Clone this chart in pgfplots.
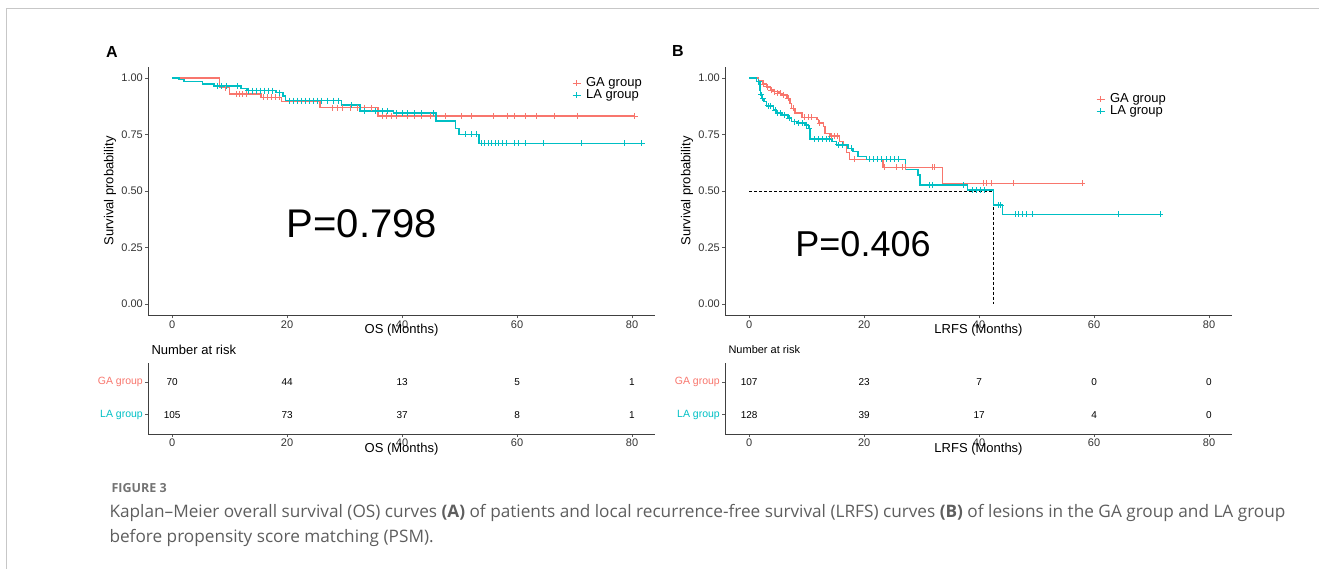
\documentclass[border=0pt]{standalone}
\usepackage{fontspec}
\setmainfont{Liberation Sans}
\newfontfamily\capfont{Open Sans}
\usepackage{pgfplots}
\pgfplotsset{compat=1.18}
\definecolor{gacol}{HTML}{F8766D}
\definecolor{lacol}{HTML}{00BFC4}
\definecolor{capgray}{HTML}{5E5E5E}
\pgfplotsset{
  base/.style={
    scale only axis, width=507pt,
    xmin=-4.2, xmax=84,
    axis lines=left,
    axis line style={-, black!75, line width=0.7pt},
    xtick={0,20,40,60,80},
    tick style={black!65, line width=0.6pt},
    tick align=outside, major tick length=3pt,
    /pgf/number format/assume math mode=true,
    ticklabel style={font=\fontsize{11}{11}\selectfont, text=black!80},
    xticklabel style={anchor=north, inner sep=0pt, yshift=-2pt},
    yticklabel style={anchor=east, inner sep=0pt, xshift=-2pt},
    x label style={at={(axis description cs:0.5,0)}, anchor=center, yshift=-15pt, font=\fontsize{13}{13}\selectfont},
  },
  km/.style={
    base, height=248.6pt,
    ymin=-0.05, ymax=1.05,
    ytick={0,0.25,0.5,0.75,1},
    yticklabels={0.00,0.25,0.50,0.75,1.00},
    y label style={at={(axis description cs:-0.075,0.5)}, anchor=center, font=\fontsize{13}{13}\selectfont},
    ylabel={Survival probability},
    legend cell align=left,
    legend image code/.code={\draw[#1,mark=none] (-1pt,0pt) -- (7pt,0pt); \draw[#1] plot coordinates {(3pt,0pt)};},
    legend style={draw=none, fill=none, inner sep=0pt, font=\fontsize{13}{13}\selectfont,
      nodes={inner sep=0pt, text height=9.5pt, text depth=2.5pt}, row sep=0pt, column sep=5pt},
  },
  risk/.style={
    base, height=71pt,
    ymin=0.4, ymax=2.6,
    ytick={1,2},
    yticklabel style={font=\fontsize{10.5}{10.5}\selectfont},
  },
  curve/.style={const plot, #1, line width=1.5pt, mark=none},
  cens/.style={only marks, mark=+, #1, mark size=3pt, line width=0.9pt},
}
\begin{document}
\begin{tikzpicture}[x=1pt,y=1pt]
\useasboundingbox (0,0) rectangle (1319,569);
\draw[black!22, line width=1pt] (6,0) -- (6,560) -- (1319,560);

% ---------------- Panel A ----------------
\node[font=\bfseries\fontsize{16}{16}\selectfont] at (112,517) {A};
\begin{axis}[km, at={(148pt,253.7pt)}, anchor=south west, xlabel={OS (Months)},
  legend style={at={(rel axis cs:0.8363,0.9586)}, anchor=north west}]
\addplot[curve=gacol, forget plot] coordinates {(0,1.000)(8.2,0.957)(10.0,0.929)(15.5,0.914)(19.0,0.895)(25.7,0.869)(35.8,0.832)(80.5,0.832)};
\addplot[curve=lacol, forget plot] coordinates {(0,1.000)(1.2,0.994)(2.1,0.984)(5.3,0.973)(7.3,0.965)(12.0,0.954)(13.0,0.944)(18.1,0.935)(19.3,0.920)(19.7,0.900)(29.5,0.881)(32.7,0.855)(38.5,0.844)(45.9,0.809)(49.3,0.777)(49.9,0.750)(53.4,0.711)(81.7,0.711)};
\addplot[cens=gacol] coordinates {(9.3,0.957)(11.1,0.929)(11.7,0.929)(12.3,0.929)(12.9,0.929)(15.9,0.914)(16.6,0.914)(17.3,0.914)(18.0,0.914)(18.6,0.914)(27.9,0.869)(28.8,0.869)(29.7,0.869)(31.0,0.869)(32.2,0.869)(33.5,0.869)(34.7,0.869)(36.6,0.832)(37.2,0.832)(38.1,0.832)(39.1,0.832)(40.9,0.832)(42.2,0.832)(43.4,0.832)(45.0,0.832)(47.5,0.832)(50.3,0.832)(52.1,0.832)(55.9,0.832)(58.4,0.832)(59.6,0.832)(61.5,0.832)(63.4,0.832)(66.5,0.832)(70.5,0.832)(80.5,0.832)};
\addlegendentry{GA group}
\addplot[cens=lacol] coordinates {(7.8,0.965)(8.6,0.965)(9.4,0.965)(11.3,0.965)(13.2,0.944)(13.9,0.944)(14.6,0.944)(15.3,0.944)(16.0,0.944)(16.7,0.944)(17.4,0.944)(18.6,0.935)(20.4,0.900)(21.1,0.900)(21.8,0.900)(22.5,0.900)(23.2,0.900)(23.9,0.900)(24.6,0.900)(25.3,0.900)(26.0,0.900)(27.0,0.900)(28.0,0.900)(29.0,0.900)(31.2,0.881)(33.5,0.855)(35.4,0.855)(36.6,0.855)(37.4,0.855)(39.1,0.844)(40.0,0.844)(40.9,0.844)(42.2,0.844)(43.4,0.844)(45.5,0.844)(51.0,0.750)(52.0,0.750)(53.0,0.750)(53.8,0.711)(54.4,0.711)(55.0,0.711)(55.6,0.711)(56.2,0.711)(56.8,0.711)(57.5,0.711)(58.1,0.711)(59.6,0.711)(60.2,0.711)(61.5,0.711)(64.6,0.711)(71.2,0.711)(78.6,0.711)(81.7,0.711)};
\addlegendentry{LA group}
\end{axis}
\node[font=\fontsize{40}{40}\selectfont] at (362,345) {P=0.798};

% risk table A
\node[anchor=west, font=\fontsize{13}{13}\selectfont] at (148,219) {Number at risk};
\begin{axis}[risk, at={(148pt,135pt)}, anchor=south west, xlabel={OS (Months)},
  yticklabels={\textcolor{lacol}{LA group},\textcolor{gacol}{GA group}}]
\addplot[draw=none, mark=none] coordinates {(0,1)(80,2)};
\node[font=\fontsize{10}{10}\selectfont] at (axis cs:0,2) {70};
\node[font=\fontsize{10}{10}\selectfont] at (axis cs:20,2) {44};
\node[font=\fontsize{10}{10}\selectfont] at (axis cs:40,2) {13};
\node[font=\fontsize{10}{10}\selectfont] at (axis cs:60,2) {5};
\node[font=\fontsize{10}{10}\selectfont] at (axis cs:80,2) {1};
\node[font=\fontsize{10}{10}\selectfont] at (axis cs:0,1) {105};
\node[font=\fontsize{10}{10}\selectfont] at (axis cs:20,1) {73};
\node[font=\fontsize{10}{10}\selectfont] at (axis cs:40,1) {37};
\node[font=\fontsize{10}{10}\selectfont] at (axis cs:60,1) {8};
\node[font=\fontsize{10}{10}\selectfont] at (axis cs:80,1) {1};
\end{axis}

% ---------------- Panel B ----------------
\node[font=\bfseries\fontsize{16}{16}\selectfont] at (678,518) {B};
\begin{axis}[km, at={(725pt,253.7pt)}, anchor=south west, xlabel={LRFS (Months)},
  legend style={at={(rel axis cs:0.7318,0.894)}, anchor=north west}]
\addplot[black, dashed, line width=0.6pt, dash pattern=on 3pt off 2pt, forget plot] coordinates {(0,0.5)(42.5,0.5)(42.5,0)};
\addplot[curve=gacol, forget plot] coordinates {(0,1.000)(1.6,0.988)(2.4,0.973)(3.0,0.961)(3.7,0.947)(4.3,0.940)(5.2,0.932)(5.7,0.925)(6.6,0.910)(7.1,0.888)(7.4,0.866)(8.0,0.844)(9.2,0.826)(11.8,0.817)(12.1,0.800)(12.9,0.785)(13.2,0.755)(14.1,0.743)(15.7,0.718)(16.4,0.704)(16.9,0.670)(17.5,0.640)(23.3,0.605)(33.6,0.534)(58.0,0.534)};
\addplot[curve=lacol, forget plot] coordinates {(0,1.000)(1.3,0.984)(1.9,0.947)(2.0,0.925)(2.2,0.910)(2.6,0.895)(3.0,0.877)(4.2,0.858)(4.8,0.844)(5.7,0.836)(6.8,0.822)(7.4,0.807)(8.3,0.800)(9.7,0.792)(10.3,0.777)(10.6,0.730)(14.4,0.718)(15.2,0.704)(17.2,0.689)(18.1,0.674)(18.9,0.652)(20.4,0.640)(27.2,0.596)(29.4,0.571)(29.7,0.527)(38.0,0.504)(42.5,0.438)(44.1,0.397)(71.5,0.397)};
\addplot[cens=gacol] coordinates {(2.5,0.973)(3.1,0.961)(3.8,0.947)(4.4,0.940)(4.9,0.932)(5.4,0.932)(6.0,0.925)(6.8,0.910)(7.7,0.866)(9.7,0.826)(10.3,0.826)(10.9,0.826)(12.3,0.800)(14.3,0.743)(14.8,0.743)(15.3,0.743)(18.4,0.640)(21.6,0.640)(23.6,0.605)(25.7,0.605)(26.6,0.605)(27.2,0.605)(31.8,0.605)(32.3,0.605)(40.7,0.534)(41.3,0.534)(42.1,0.534)(45.9,0.534)(57.9,0.534)};
\addlegendentry{GA group}
\addplot[cens=lacol] coordinates {(1.7,0.984)(2.1,0.925)(2.4,0.910)(3.3,0.877)(3.7,0.877)(4.5,0.858)(5.0,0.844)(5.4,0.844)(6.2,0.836)(7.0,0.822)(7.8,0.807)(8.6,0.800)(9.2,0.800)(10.0,0.792)(10.45,0.777)(11.3,0.730)(12.0,0.730)(12.7,0.730)(13.4,0.730)(14.0,0.730)(15.5,0.704)(16.3,0.704)(17.8,0.689)(21.0,0.640)(21.7,0.640)(22.4,0.640)(23.1,0.640)(23.8,0.640)(24.5,0.640)(25.3,0.640)(26.0,0.640)(31.3,0.527)(31.9,0.527)(37.3,0.527)(38.9,0.504)(39.5,0.504)(40.2,0.504)(40.9,0.504)(43.3,0.438)(43.8,0.438)(46.3,0.397)(46.8,0.397)(47.6,0.397)(48.3,0.397)(49.2,0.397)(64.3,0.397)(71.5,0.397)};
\addlegendentry{LA group}
\end{axis}
\node[font=\fontsize{36}{36}\selectfont] at (863,325) {P=0.406};

% risk table B
\node[anchor=west, font=\fontsize{11}{11}\selectfont] at (725,219) {Number at risk};
\begin{axis}[risk, at={(725pt,135pt)}, anchor=south west, xlabel={LRFS (Months)},
  yticklabels={\textcolor{lacol}{LA group},\textcolor{gacol}{GA group}}]
\addplot[draw=none, mark=none] coordinates {(0,1)(80,2)};
\node[font=\fontsize{10}{10}\selectfont] at (axis cs:0,2) {107};
\node[font=\fontsize{10}{10}\selectfont] at (axis cs:20,2) {23};
\node[font=\fontsize{10}{10}\selectfont] at (axis cs:40,2) {7};
\node[font=\fontsize{10}{10}\selectfont] at (axis cs:60,2) {0};
\node[font=\fontsize{10}{10}\selectfont] at (axis cs:80,2) {0};
\node[font=\fontsize{10}{10}\selectfont] at (axis cs:0,1) {128};
\node[font=\fontsize{10}{10}\selectfont] at (axis cs:20,1) {39};
\node[font=\fontsize{10}{10}\selectfont] at (axis cs:40,1) {17};
\node[font=\fontsize{10}{10}\selectfont] at (axis cs:60,1) {4};
\node[font=\fontsize{10}{10}\selectfont] at (axis cs:80,1) {0};
\end{axis}

% ---------------- Caption ----------------
\node[anchor=west, text=black!55, font=\capfont\bfseries\fontsize{12.5}{12.5}\selectfont] at (108,81) {FIGURE 3};
\node[anchor=west, text=capgray, font=\capfont\fontsize{17.2}{17.2}\selectfont] at (106,56) {Kaplan–Meier overall survival (OS) curves \textbf{(A)} of patients and local recurrence-free survival (LRFS) curves \textbf{(B)} of lesions in the GA group and LA group};
\node[anchor=west, text=capgray, font=\capfont\fontsize{17.2}{17.2}\selectfont] at (106,31) {before propensity score matching (PSM).};
\end{tikzpicture}
\end{document}
